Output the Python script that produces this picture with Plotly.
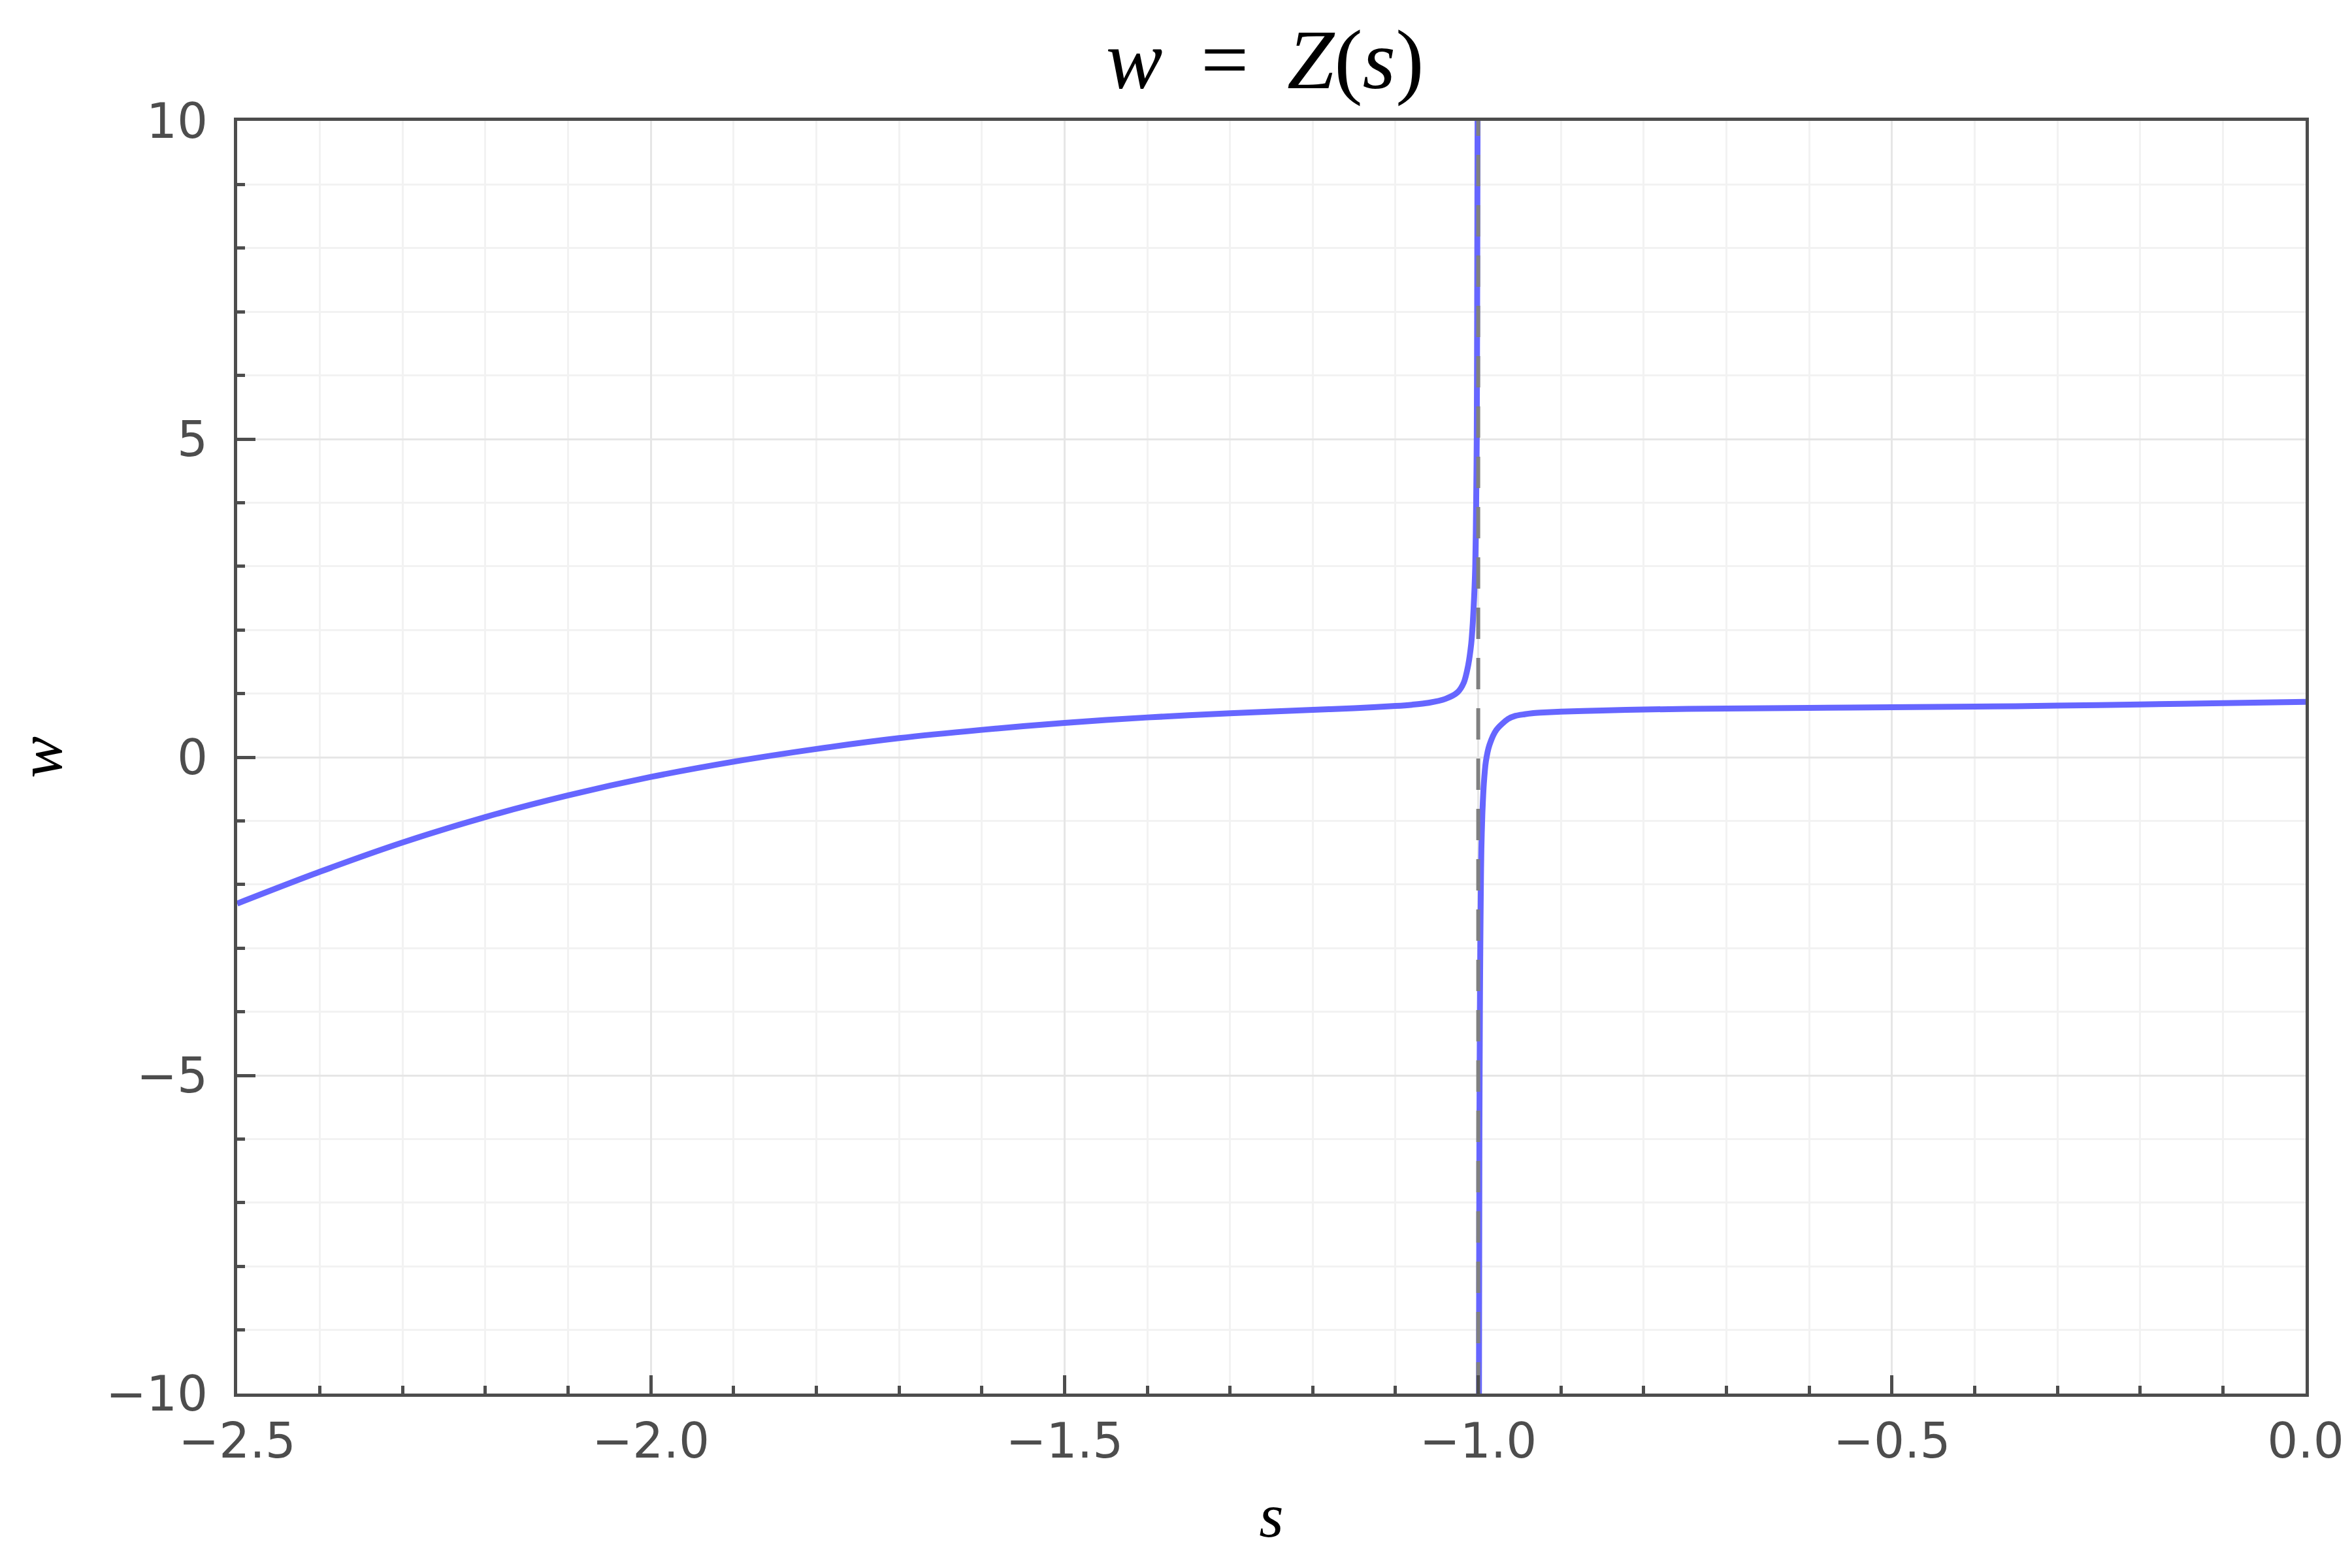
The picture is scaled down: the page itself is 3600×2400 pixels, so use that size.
import plotly.graph_objects as go

# left branch of the curve (s < -1)
s_left = [-2.5, -2.4, -2.3, -2.2, -2.1, -2.0, -1.9, -1.8, -1.7, -1.6,
          -1.5, -1.4, -1.3, -1.2, -1.15, -1.1, -1.08, -1.06, -1.04, -1.025,
          -1.0175, -1.0125, -1.0085, -1.0066, -1.005, -1.0036, -1.0025, -1.0018,
          -1.0013, -1.0008]
w_left = [-2.30, -1.80, -1.34, -0.94, -0.60, -0.31, -0.07, 0.13, 0.30, 0.43,
          0.54, 0.625, 0.69, 0.745, 0.77, 0.805, 0.825, 0.855, 0.915, 1.02,
          1.17, 1.42, 1.78, 2.1, 2.5, 3.0, 4.0, 5.0,
          7.0, 10.0]

# right branch of the curve (s > -1)
s_right = [-0.9991, -0.9986, -0.998, -0.9975, -0.9968, -0.9962, -0.9951, -0.9932, -0.9908,
           -0.9865, -0.978, -0.964, -0.955, -0.944, -0.935, -0.925, -0.9, -0.85,
           -0.8, -0.7, -0.6, -0.5, -0.4, -0.3, -0.2, -0.1, 0.0]
w_right = [-10.0, -6.0, -4.0, -3.0, -2.0, -1.44, -0.92, -0.41, -0.07,
           0.19, 0.43, 0.60, 0.65, 0.675, 0.69, 0.70, 0.717, 0.735,
           0.75, 0.765, 0.775, 0.785, 0.795, 0.81, 0.83, 0.85, 0.87]

# vertical asymptote
s_pole = [-1.0, -1.0]
w_pole = [-10.0, 10.0]

x_ticks = [-2.5, -2.0, -1.5, -1.0, -0.5, 0.0]
y_ticks = [-10, -5, 0, 5, 10]

AX = "#4d4d4d"
SERIF = "Liberation Serif"
BLUE = "#6666ff"

fig = go.Figure()

for xs, ys in [(s_left, w_left), (s_right, w_right)]:
    fig.add_trace(go.Scatter(
        x=xs, y=ys,
        mode="lines",
        line=dict(color=BLUE, width=9, shape="spline", smoothing=0.8),
        showlegend=False,
    ))

fig.add_trace(go.Scatter(
    x=s_pole, y=w_pole,
    mode="lines",
    line=dict(color="#808080", width=6, dash="48px,29px"),
    showlegend=False,
))

axis_common = dict(
    showline=True, linecolor=AX, linewidth=5, mirror=True,
    ticks="inside", ticklen=28, tickwidth=5, tickcolor=AX,
    showgrid=True, gridcolor="#e6e6e6", gridwidth=3,
    zeroline=False,
    tickfont=dict(family="DejaVu Sans", size=74, color=AX),
)

fig.update_xaxes(
    range=[-2.5, 0.0],
    tickvals=x_ticks,
    ticktext=[f"{v:.1f}".replace("-", "\u2212") for v in x_ticks],
    minor=dict(dtick=0.1, tick0=-2.5, ticks="inside", ticklen=12, tickwidth=5,
               tickcolor=AX, showgrid=True, gridcolor="#f2f2f2", gridwidth=3),
    title=dict(text="<i>s</i>", font=dict(family=SERIF, size=96, color="black"), standoff=40),
    ticklabelstandoff=4,
    **axis_common,
)

fig.update_yaxes(
    range=[-10, 10],
    tickvals=y_ticks,
    ticktext=[str(v).replace("-", "\u2212") for v in y_ticks],
    minor=dict(dtick=1, tick0=-10, ticks="inside", ticklen=12, tickwidth=5,
               tickcolor=AX, showgrid=True, gridcolor="#f2f2f2", gridwidth=3),
    title=dict(text="<i>w</i>", font=dict(family=SERIF, size=96, color="black"), standoff=58),
    ticklabelstandoff=25,
    **axis_common,
)

# the page body adds an 8px offset, so the margins are shifted to keep the frame in place
fig.update_layout(
    width=3600, height=2400,
    margin=dict(l=355, r=79, t=177, b=275),
    plot_bgcolor="white", paper_bgcolor="white",
    title=dict(
        text="<i>w</i>\u2009 = \u2009<i>Z</i>(<i>s</i>)",
        font=dict(family=SERIF, size=130, color="black"),
        x=0.5356, xanchor="center", y=0.966, yanchor="middle",
    ),
)

fig.write_html("out.html")
